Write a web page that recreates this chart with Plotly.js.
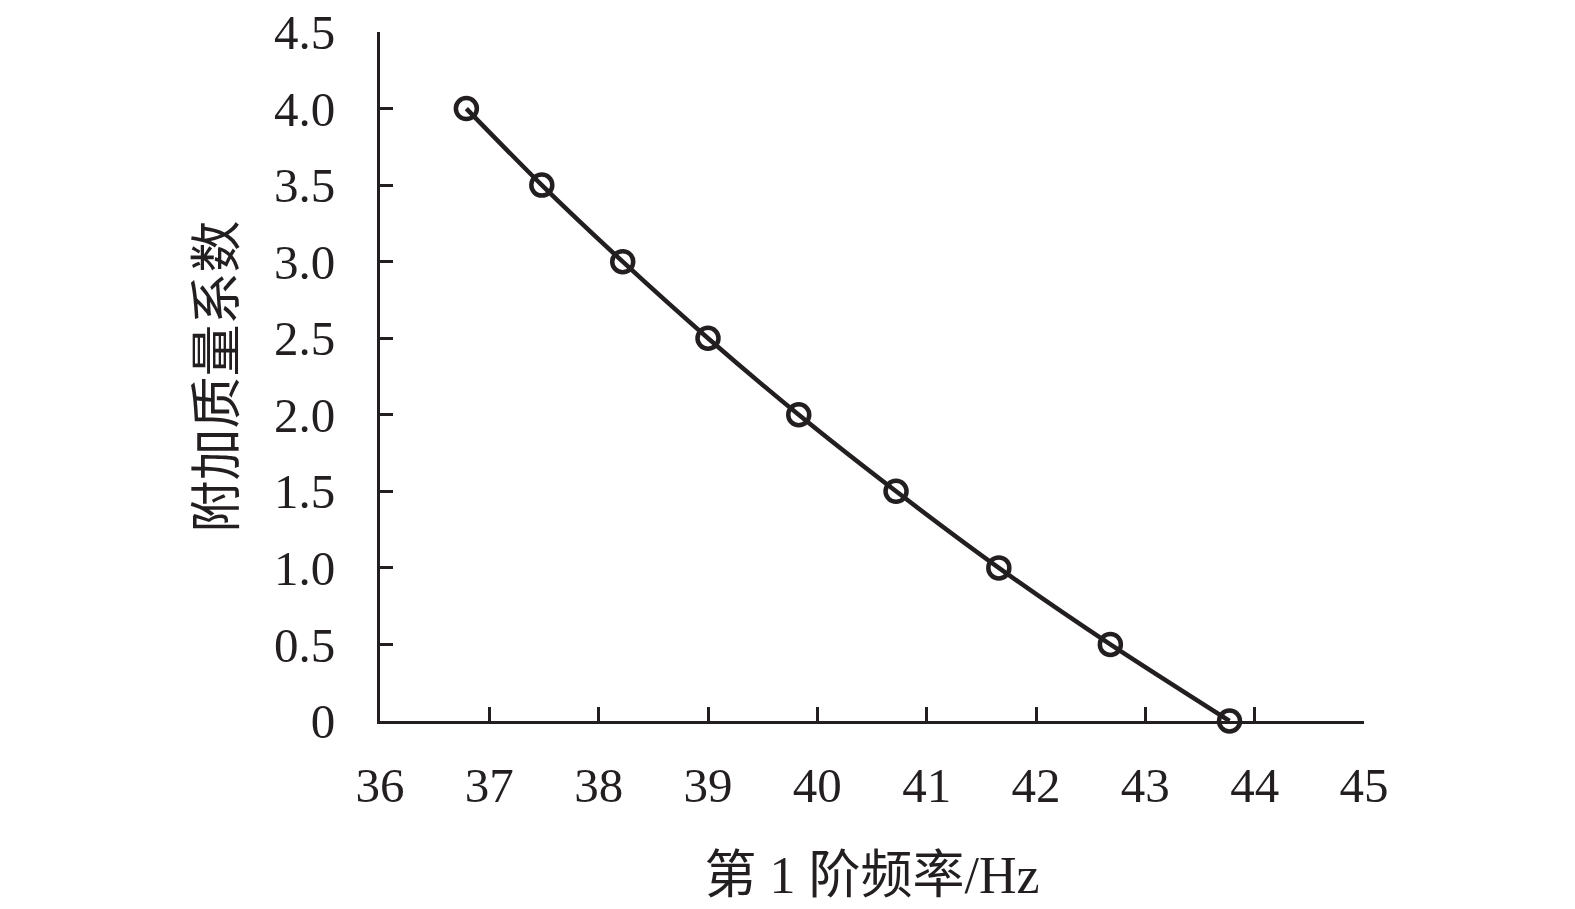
<!DOCTYPE html>
<html>
<head>
<meta charset="utf-8">
<script src="https://cdn.plot.ly/plotly-3.0.1.min.js"></script>
<style>html,body{margin:0;padding:0;background:#fff;}#chart{width:1575px;height:909px;}</style>
</head>
<body>
<div id="chart"></div>
<script>
// Data
const frequency = [36.79, 37.48, 38.22, 39.00, 39.83, 40.72, 41.66, 42.68, 43.77];
const massCoefficient = [4.0, 3.5, 3.0, 2.5, 2.0, 1.5, 1.0, 0.5, 0];
const xTickValues = [36, 37, 38, 39, 40, 41, 42, 43, 44, 45];
const xTickLabels = ['36', '37', '38', '39', '40', '41', '42', '43', '44', '45'];
const yTickValues = [0, 0.5, 1.0, 1.5, 2.0, 2.5, 3.0, 3.5, 4.0, 4.5];
const yTickLabels = ['0', '0.5', '1.0', '1.5', '2.0', '2.5', '3.0', '3.5', '4.0', '4.5'];
const xTitle = '第 1 阶频率/Hz';
const yTitle = '附加质量系数';

const ink = '#231f20';
const fontFamily = '"Liberation Serif", "Times New Roman", "Noto Sans CJK SC", serif';

const trace = {
  x: frequency,
  y: massCoefficient,
  type: 'scatter',
  mode: 'lines+markers',
  line: {color: ink, width: 4.5, shape: 'spline', smoothing: 0.8},
  marker: {symbol: 'circle-open', size: 21, color: ink, line: {color: ink, width: 4.5}},
  cliponaxis: false,
  hoverinfo: 'x+y'
};

const layout = {
  width: 1575,
  height: 909,
  margin: {l: 380, r: 211, t: 32, b: 188},
  paper_bgcolor: '#ffffff',
  plot_bgcolor: '#ffffff',
  showlegend: false,
  font: {family: fontFamily, color: ink, size: 48},
  xaxis: {
    range: [36, 45],
    tickmode: 'array',
    tickvals: xTickValues,
    ticktext: xTickLabels,
    ticks: 'inside',
    ticklen: 14,
    tickwidth: 3,
    tickcolor: ink,
    showline: true,
    linecolor: ink,
    linewidth: 3,
    showgrid: false,
    zeroline: false,
    ticklabelstandoff: 19,
    tickfont: {family: fontFamily, size: 49, color: ink},
    title: {text: xTitle, font: {family: fontFamily, size: 52, color: ink}, standoff: 45}
  },
  yaxis: {
    range: [0, 4.5],
    tickmode: 'array',
    tickvals: yTickValues,
    ticktext: yTickLabels,
    ticks: 'inside',
    ticklen: 13,
    tickwidth: 3,
    tickcolor: ink,
    showline: true,
    linecolor: ink,
    linewidth: 3,
    showgrid: false,
    zeroline: false,
    ticklabelstandoff: 32,
    tickfont: {family: fontFamily, size: 49, color: ink},
    title: {text: yTitle, font: {family: fontFamily, size: 52, color: ink}, standoff: 22}
  }
};

Plotly.newPlot('chart', [trace], layout, {displayModeBar: false, staticPlot: false});
</script>
</body>
</html>
